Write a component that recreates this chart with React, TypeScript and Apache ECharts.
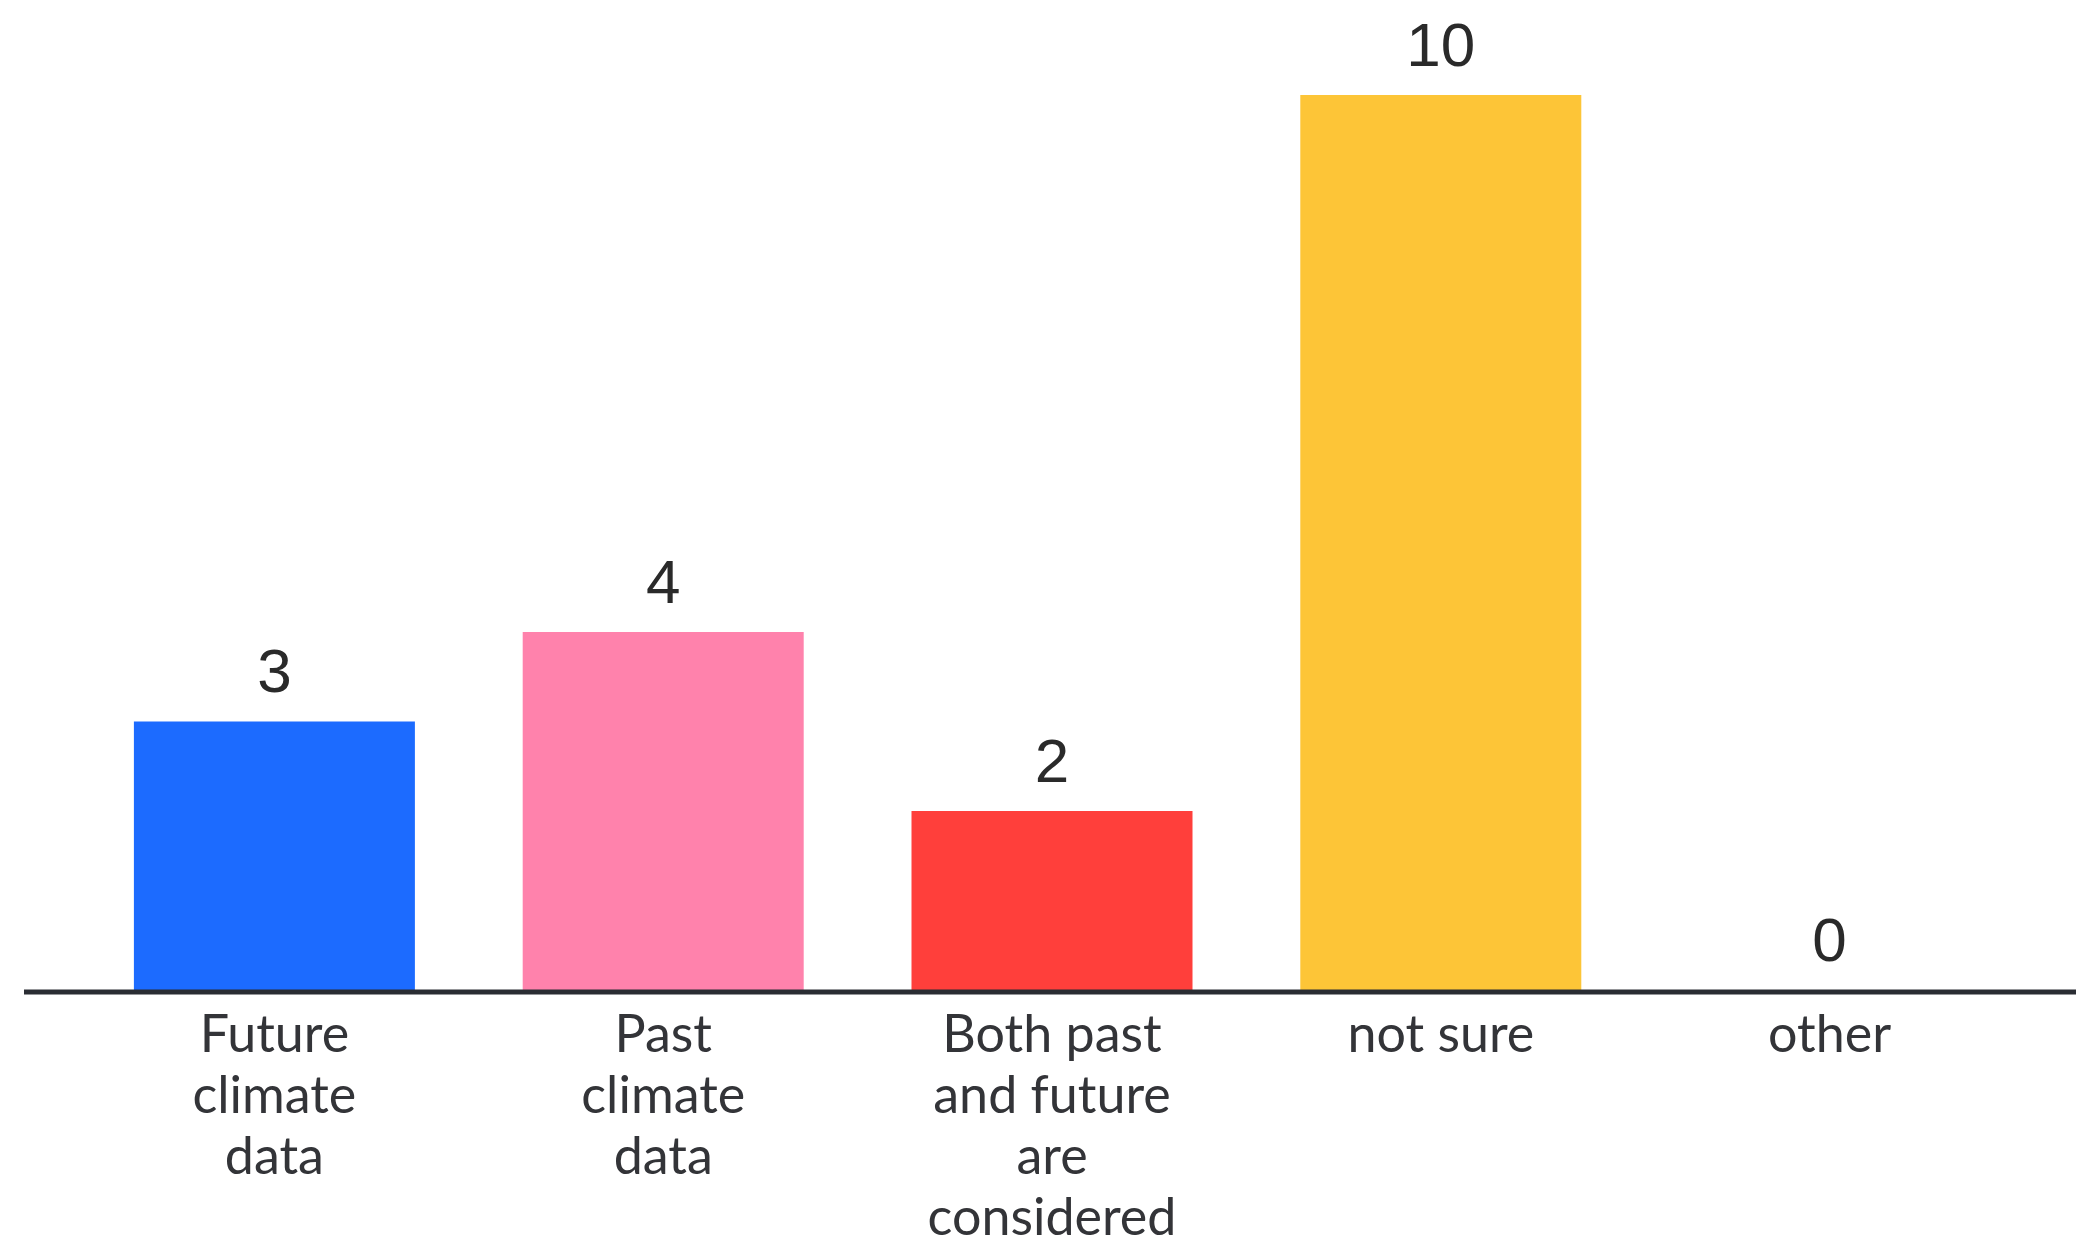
import React, { useEffect, useRef } from "react";
import * as echarts from "echarts";

const categories = [
  "Future\nclimate\ndata",
  "Past\nclimate\ndata",
  "Both past\nand future\nare\nconsidered",
  "not sure",
  "other",
];
const values = [3, 4, 2, 10, 0];
const barColors = ["#1c6bff", "#ff82ac", "#ff3f3b", "#fdc537", "#cccccc"];

export default function App() {
  const ref = useRef<HTMLDivElement>(null);
  useEffect(() => {
    document.body.style.margin = "0";
    const chart = echarts.init(ref.current!, null, { renderer: "svg" });
    chart.setOption({
      animation: false,
      backgroundColor: "#ffffff",
      grid: { left: 80, width: 1944, top: 95, bottom: 264, containLabel: false },
      xAxis: {
        type: "category",
        data: categories,
        axisLine: { show: false },
        axisTick: { show: false },
        axisLabel: {
          interval: 0,
          margin: 11,
          fontFamily: "Lato",
          fontSize: 52,
          lineHeight: 61,
          color: "#333438",
        },
      },
      yAxis: {
        type: "value",
        min: 0,
        max: 10,
        show: false,
        splitLine: { show: false },
      },
      graphic: [
        {
          type: "line",
          shape: { x1: 24, y1: 992, x2: 2076, y2: 992 },
          style: { stroke: "#2a2d33", lineWidth: 5 },
          z: 10,
        },
      ],
      series: [
        {
          type: "bar",
          barWidth: 281,
          data: values.map((v, i) => ({ value: v, itemStyle: { color: barColors[i] } })),
          label: {
            show: true,
            position: "top",
            distance: 20,
            fontFamily: "Liberation Sans",
            fontSize: 62,
            color: "#2a2a2a",
          },
        },
      ],
    });
    return () => chart.dispose();
  }, []);
  return <div ref={ref} style={{ width: 2076, height: 1254 }} />;
}
